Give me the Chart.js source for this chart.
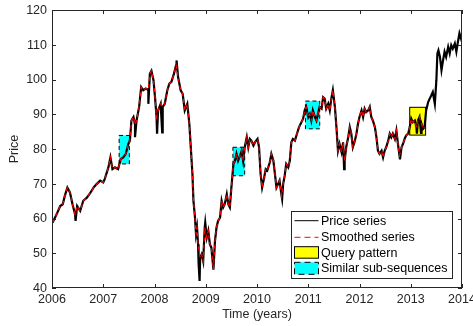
<!DOCTYPE html>
<html>
<head>
<meta charset="utf-8">
<script src="https://cdn.jsdelivr.net/npm/chart.js@4"></script>
<style>
  html, body { margin: 0; padding: 0; background: #fff; }
  #chart { display: block; }
</style>
</head>
<body>
<canvas id="chart" width="473" height="326"></canvas>
<script>
// price series (time in fractional years)
const years = [
  2006.01, 2006.09, 2006.16, 2006.21, 2006.25, 2006.30, 2006.35, 2006.40, 2006.45, 2006.49,
  2006.55, 2006.61, 2006.68, 2006.74, 2006.81, 2006.87, 2006.94, 2007.00, 2007.03, 2007.10,
  2007.14, 2007.18, 2007.23, 2007.29, 2007.34, 2007.39, 2007.44, 2007.49, 2007.52, 2007.55,
  2007.59, 2007.62, 2007.65, 2007.70, 2007.74, 2007.78, 2007.83, 2007.88, 2007.91, 2007.94,
  2007.98, 2008.01, 2008.04, 2008.07, 2008.12, 2008.16, 2008.20, 2008.25, 2008.29, 2008.33,
  2008.38, 2008.42, 2008.46, 2008.51, 2008.55, 2008.59, 2008.64, 2008.68, 2008.70, 2008.74,
  2008.76, 2008.79, 2008.81, 2008.83, 2008.85, 2008.89, 2008.92, 2008.95, 2008.98, 2009.02,
  2009.05, 2009.08, 2009.11, 2009.15, 2009.18, 2009.21, 2009.24, 2009.28, 2009.31, 2009.34,
  2009.37, 2009.41, 2009.44, 2009.47, 2009.50, 2009.54, 2009.57, 2009.60, 2009.63, 2009.67,
  2009.70, 2009.73, 2009.76, 2009.80, 2009.83, 2009.86, 2009.89, 2009.93, 2009.96, 2010.01,
  2010.04, 2010.07, 2010.10, 2010.14, 2010.17, 2010.20, 2010.25, 2010.28, 2010.32, 2010.35,
  2010.38, 2010.41, 2010.44, 2010.48, 2010.51, 2010.54, 2010.57, 2010.61, 2010.64, 2010.67,
  2010.70, 2010.74, 2010.78, 2010.82, 2010.85, 2010.90, 2010.93, 2010.96, 2011.00, 2011.03,
  2011.06, 2011.09, 2011.13, 2011.16, 2011.19, 2011.22, 2011.26, 2011.29, 2011.32, 2011.35,
  2011.39, 2011.42, 2011.45, 2011.48, 2011.52, 2011.55, 2011.58, 2011.61, 2011.65, 2011.68,
  2011.71, 2011.74, 2011.78, 2011.81, 2011.84, 2011.87, 2011.91, 2011.94, 2011.97, 2012.00,
  2012.04, 2012.07, 2012.10, 2012.13, 2012.17, 2012.20, 2012.23, 2012.26, 2012.30, 2012.33,
  2012.36, 2012.39, 2012.43, 2012.46, 2012.49, 2012.52, 2012.56, 2012.59, 2012.62, 2012.65,
  2012.69, 2012.72, 2012.75, 2012.78, 2012.82, 2012.85, 2012.88, 2012.91, 2012.95, 2012.98,
  2013.01, 2013.04, 2013.08, 2013.11, 2013.14, 2013.17, 2013.21, 2013.24, 2013.27, 2013.30,
  2013.34, 2013.37, 2013.40, 2013.43, 2013.47, 2013.50, 2013.52, 2013.54, 2013.57, 2013.60,
  2013.63, 2013.66, 2013.69, 2013.73, 2013.76, 2013.79, 2013.82, 2013.86, 2013.89, 2013.92,
  2013.95, 2013.99, 2014.00
];
const prices = [
  58.8, 61.2, 63.6, 64.1, 66.5, 68.9, 67.5, 64.1, 61.2, 63.6,
  62.2, 65.1, 66.0, 67.2, 68.9, 69.9, 70.9, 70.4, 71.4, 74.7,
  77.6, 74.2, 74.7, 74.2, 77.1, 77.6, 78.6, 81.5, 82.4, 88.2,
  89.2, 87.0, 88.2, 92.1, 97.8, 96.9, 97.4, 97.0, 101.7, 102.5,
  99.8, 94.9, 89.2, 91.1, 93.0, 92.1, 93.0, 96.9, 98.8, 99.3,
  101.7, 104.1, 100.7, 96.9, 95.9, 91.1, 93.0, 87.2, 82.4, 72.8,
  65.1, 60.3, 55.5, 57.4, 52.6, 48.7, 49.7, 47.7, 57.4, 54.5,
  56.4, 52.6, 51.6, 45.3, 53.5, 57.4, 59.3, 60.3, 65.1, 63.2,
  64.1, 67.0, 64.1, 63.2, 68.9, 75.7, 76.6, 78.6, 76.6, 78.1,
  79.5, 76.6, 80.5, 83.4, 80.5, 82.9, 82.4, 81.0, 81.9, 82.9,
  80.5, 72.8, 68.9, 71.8, 74.2, 73.8, 76.2, 78.6, 76.6, 72.8,
  68.9, 69.9, 70.9, 66.5, 69.9, 72.3, 75.7, 74.7, 76.6, 81.9,
  82.9, 82.4, 84.4, 86.3, 87.2, 88.7, 91.1, 92.1, 89.2, 90.1,
  88.2, 91.1, 89.2, 88.2, 90.1, 92.1, 91.6, 94.9, 94.5, 91.6,
  93.0, 91.1, 94.5, 96.9, 92.1, 86.3, 79.5, 81.5, 79.1, 81.9,
  76.6, 80.5, 83.4, 86.3, 84.4, 80.5, 82.4, 84.4, 87.2, 89.2,
  91.1, 89.2, 91.6, 90.6, 91.1, 92.1, 89.2, 88.2, 86.3, 83.4,
  79.5, 78.6, 79.5, 77.6, 79.5, 80.5, 82.4, 84.4, 83.4, 84.4,
  82.9, 85.3, 81.5, 78.1, 80.5, 81.5, 82.9, 83.9, 84.4, 86.3,
  88.7, 87.7, 88.2, 86.3, 88.2, 89.2, 87.2, 85.8, 86.3, 91.1,
  93.5, 94.5, 95.4, 96.4, 93.0, 99.8, 107.5, 108.4, 106.5, 102.7,
  105.5, 108.0, 106.5, 109.4, 107.5, 109.9, 108.9, 110.4, 108.0, 110.8,
  113.3, 111.3, 110.8
];

// single-day spikes of the raw series (not in the smoothed one)
const spikeYears = [2006.46, 2007.62, 2007.88, 2008.05, 2008.15, 2008.43, 2008.86, 2008.88, 2008.99, 2010.49, 2011.70, 2012.79, 2013.12, 2013.20];
const spikePrices = [59.3, 83.4, 93.0, 84.4, 84.8, 105.5, 47.3, 42.0, 58.8, 65.6, 74.2, 77.0, 84.4, 84.6];

// smoothed series stops at the end of the query pattern
const smoothEnd = 2013.28;

// rectangles: [startYear, endYear, low, high]
const queryBox = [2012.98, 2013.29, 84.0, 92.0];
const similarBoxes = [
  [2007.31, 2007.51, 75.7, 83.9],
  [2009.53, 2009.76, 72.3, 80.5],
  [2010.945, 2011.224, 85.8, 93.8]
];

const xTicks = [2006, 2007, 2008, 2009, 2010, 2011, 2012, 2013, 2014];
const yTicks = [40, 50, 60, 70, 80, 90, 100, 110, 120];
const legendLabels = ['Price series', 'Smoothed series', 'Query pattern', 'Similar sub-sequences'];
const xLabel = 'Time (years)';
const yLabel = 'Price';

const FONT = "'Liberation Sans', Arial, Helvetica, sans-serif";
const AXIS_COLOR = '#262626';

const priceData = years.map((yr, i) => ({ x: yr, y: prices[i] }))
  .concat(spikeYears.map((yr, i) => ({ x: yr, y: spikePrices[i] })))
  .sort((a, b) => a.x - b.x);
const smoothData = years
  .map((yr, i) => ({ x: yr, y: prices[i] }))
  .filter(p => p.x <= smoothEnd);

const drawRect = (ctx, xs, ys, box, fill, dash) => {
  const x0 = xs.getPixelForValue(box[0]);
  const x1 = xs.getPixelForValue(box[1]);
  const y0 = ys.getPixelForValue(box[3]);
  const y1 = ys.getPixelForValue(box[2]);
  ctx.fillStyle = fill;
  ctx.fillRect(x0, y0, x1 - x0, y1 - y0);
  ctx.setLineDash(dash);
  ctx.strokeStyle = '#000';
  ctx.lineWidth = 1;
  ctx.strokeRect(x0, y0, x1 - x0, y1 - y0);
  ctx.setLineDash([]);
};

const boxesPlugin = {
  id: 'boxes',
  beforeDatasetsDraw(chart) {
    const { ctx, scales: { x, y } } = chart;
    ctx.save();
    similarBoxes.forEach(b => drawRect(ctx, x, y, b, '#00ffff', [4, 3]));
    drawRect(ctx, x, y, queryBox, '#ffff00', []);
    ctx.restore();
  },
  afterDraw(chart) {
    const { ctx, chartArea: a, scales: { x, y } } = chart;
    ctx.save();

    // axes box with inward ticks on all sides
    ctx.strokeStyle = AXIS_COLOR;
    ctx.lineWidth = 1;
    ctx.strokeRect(a.left + 0.5, a.top + 0.5, a.right - a.left - 1, a.bottom - a.top - 1);
    ctx.beginPath();
    xTicks.forEach(v => {
      const px = Math.round(x.getPixelForValue(v)) + 0.5;
      ctx.moveTo(px, a.bottom); ctx.lineTo(px, a.bottom - 4);
      ctx.moveTo(px, a.top); ctx.lineTo(px, a.top + 4);
    });
    yTicks.forEach(v => {
      const py = Math.round(y.getPixelForValue(v)) + 0.5;
      ctx.moveTo(a.left, py); ctx.lineTo(a.left + 4, py);
      ctx.moveTo(a.right, py); ctx.lineTo(a.right - 4, py);
    });
    ctx.stroke();

    // tick labels
    ctx.fillStyle = AXIS_COLOR;
    ctx.font = '12.5px ' + FONT;
    ctx.textBaseline = 'middle';
    ctx.textAlign = 'center';
    xTicks.forEach(v => ctx.fillText(String(v), x.getPixelForValue(v), a.bottom + 12));
    ctx.textAlign = 'right';
    yTicks.forEach(v => ctx.fillText(String(v), a.left - 5, y.getPixelForValue(v) + 0.5));

    // axis titles
    ctx.textAlign = 'center';
    ctx.fillText(xLabel, (a.left + a.right) / 2, 315);
    ctx.save();
    ctx.translate(15, (a.top + a.bottom) / 2);
    ctx.rotate(-Math.PI / 2);
    ctx.fillText(yLabel, 0, 0);
    ctx.restore();

    // legend box, lower right
    const lx = 291, ly = 211, lw = 161, lh = 67;
    ctx.fillStyle = '#fff';
    ctx.fillRect(lx, ly, lw, lh);
    ctx.strokeStyle = AXIS_COLOR;
    ctx.strokeRect(lx + 0.5, ly + 0.5, lw, lh);
    const rowY = [220.7, 237.3, 252.7, 268.3];
    const sx0 = 294.5, sx1 = 318.5;

    ctx.strokeStyle = '#000';
    ctx.lineWidth = 1;
    ctx.beginPath(); ctx.moveTo(sx0, rowY[0]); ctx.lineTo(sx1, rowY[0]); ctx.stroke();
    ctx.strokeStyle = '#ff0000';
    ctx.setLineDash([6, 4]);
    ctx.beginPath(); ctx.moveTo(sx0, rowY[1]); ctx.lineTo(sx1, rowY[1]); ctx.stroke();
    ctx.setLineDash([]);

    ctx.fillStyle = '#ffff00';
    ctx.fillRect(sx0, rowY[2] - 6, sx1 - sx0, 11.5);
    ctx.strokeStyle = '#000';
    ctx.strokeRect(sx0, rowY[2] - 6, sx1 - sx0, 11.5);
    ctx.fillStyle = '#00ffff';
    ctx.fillRect(sx0, rowY[3] - 6, sx1 - sx0, 12);
    ctx.setLineDash([6, 4]);
    ctx.strokeRect(sx0, rowY[3] - 6, sx1 - sx0, 12);
    ctx.setLineDash([]);

    ctx.fillStyle = '#000';
    ctx.textAlign = 'left';
    ctx.textBaseline = 'middle';
    legendLabels.forEach((txt, i) => ctx.fillText(txt, 321, rowY[i] + 0.5));

    ctx.restore();
  }
};

const ctx = document.getElementById('chart');
new Chart(ctx, {
  type: 'line',
  data: {
    datasets: [
      {
        label: legendLabels[0],
        data: priceData,
        borderColor: '#000000',
        borderWidth: 2.2,
        pointRadius: 0,
        tension: 0,
        order: 2
      },
      {
        label: legendLabels[1],
        data: smoothData,
        borderColor: '#ff0000',
        borderWidth: 1.2,
        borderDash: [4, 3],
        pointRadius: 0,
        tension: 0,
        order: 1
      }
    ]
  },
  options: {
    responsive: false,
    animation: false,
    devicePixelRatio: 1,
    layout: { padding: { top: 10, right: 11, left: 0, bottom: 0 } },
    plugins: {
      legend: { display: false },
      tooltip: { enabled: false }
    },
    scales: {
      x: {
        type: 'linear',
        min: 2006,
        max: 2014,
        grid: { display: false },
        border: { display: false },
        ticks: { display: false, stepSize: 1 },
        afterFit: s => { s.height = 38; }
      },
      y: {
        min: 40,
        max: 120,
        grid: { display: false },
        border: { display: false },
        ticks: { display: false, stepSize: 10 },
        afterFit: s => { s.width = 52; }
      }
    }
  },
  plugins: [boxesPlugin]
});
</script>
</body>
</html>
